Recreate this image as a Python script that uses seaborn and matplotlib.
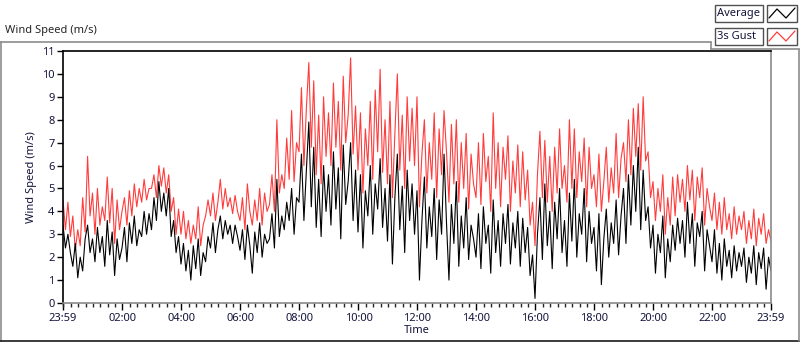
import numpy as np
import pandas as pd
import matplotlib
matplotlib.use("Agg")
import matplotlib.pyplot as plt
from matplotlib.lines import Line2D
from matplotlib.patches import Rectangle
from matplotlib.ticker import FixedLocator
import seaborn as sns

# average wind speed, 5 minute steps starting at 23:59 (one row of 12 per hour)
average = [
    3.4, 2.4, 3.0, 2.2, 1.6, 2.6, 1.1, 2.0, 1.4, 2.8, 3.4, 2.2,
    2.8, 1.8, 3.3, 2.2, 2.9, 1.6, 3.6, 2.1, 3.1, 1.2, 2.8, 1.9,
    2.4, 3.3, 1.8, 3.5, 2.6, 3.8, 2.5, 3.2, 2.9, 4.0, 3.0, 3.9,
    3.2, 4.6, 3.6, 5.3, 4.0, 4.8, 3.8, 5.0, 2.9, 3.6, 2.2, 2.9,
    1.7, 2.6, 1.4, 2.3, 1.0, 2.5, 1.5, 2.8, 1.2, 2.2, 1.8, 2.9,
    2.4, 3.5, 2.2, 3.2, 3.8, 2.8, 3.6, 3.0, 3.4, 2.6, 3.4, 2.9,
    2.3, 3.2, 1.9, 3.4, 2.5, 1.3, 3.1, 2.2, 3.5, 2.0, 3.0, 2.6,
    2.8, 3.9, 2.4, 5.4, 2.9, 3.8, 3.2, 4.4, 3.6, 5.0, 3.0, 4.6,
    4.4, 6.5, 3.6, 5.8, 7.9, 4.2, 6.8, 3.3, 5.4, 2.9, 6.0, 4.0,
    5.6, 3.4, 6.6, 4.1, 5.9, 2.8, 6.9, 4.3, 5.3, 7.0, 3.6, 5.8,
    3.1, 5.6, 2.4, 4.9, 3.8, 6.0, 3.0, 5.2, 4.1, 6.3, 3.3, 5.0,
    2.7, 5.6, 1.7, 4.6, 6.5, 3.2, 5.1, 2.2, 5.8, 3.6, 5.2, 3.0,
    4.9, 1.0, 3.6, 5.5, 2.4, 4.2, 2.9, 5.0, 1.9, 4.5, 3.0, 6.5,
    3.5, 1.0, 4.3, 2.6, 5.3, 1.6, 3.8, 2.4, 4.6, 1.9, 3.4, 2.8,
    2.0, 3.9, 1.5, 4.2, 2.6, 3.4, 1.3, 4.5, 2.2, 3.6, 1.6, 3.9,
    2.6, 4.3, 1.7, 3.5, 2.4, 4.0, 1.6, 3.7, 2.2, 3.3, 1.2, 2.1,
    0.2, 3.0, 4.6, 1.9, 5.2, 2.5, 4.0, 1.5, 4.4, 2.8, 5.0, 2.2,
    3.6, 1.6, 4.8, 2.7, 5.4, 2.0, 3.9, 3.0, 5.0, 1.8, 4.0, 2.6,
    3.3, 1.4, 3.9, 0.8, 2.8, 4.1, 2.0, 3.5, 2.6, 4.5, 2.1, 3.8,
    5.0, 2.6, 5.6, 3.4, 6.0, 4.0, 6.8, 3.2, 5.8, 3.6, 4.2, 2.4,
    3.4, 1.3, 3.0, 2.2, 3.8, 1.1, 2.8, 1.8, 3.4, 2.3, 3.7, 2.6,
    3.6, 2.0, 4.4, 2.6, 3.9, 1.6, 3.5, 2.9, 4.0, 1.4, 3.2, 2.5,
    1.8, 3.2, 1.3, 2.6, 1.0, 2.8, 1.6, 2.3, 1.1, 2.5, 1.4, 2.2,
    1.6, 2.4, 0.9, 2.0, 1.3, 2.5, 0.8, 2.2, 1.5, 2.4, 0.6, 2.0,
    1.4,
]

gust = [
    4.5, 3.2, 4.4, 2.9, 3.8, 2.3, 3.2, 2.5, 4.6, 3.1, 6.4, 3.8,
    4.8, 3.0, 5.0, 3.4, 4.2, 3.6, 5.5, 3.5, 5.0, 2.6, 4.5, 3.2,
    4.0, 4.6, 3.4, 4.9, 3.8, 5.2, 4.2, 5.0, 4.4, 5.4, 4.5, 5.0,
    5.0, 5.6, 4.6, 6.0, 5.1, 5.9, 4.8, 5.6, 4.0, 4.6, 3.0, 4.1,
    3.0, 4.0, 2.8, 3.6, 2.6, 3.4, 2.8, 4.2, 2.5, 3.4, 3.8, 4.5,
    3.8, 4.8, 3.6, 4.4, 5.4, 4.1, 5.0, 4.2, 4.6, 3.9, 4.7, 4.0,
    3.6, 4.6, 3.2, 5.2, 4.0, 3.4, 4.5, 3.6, 5.0, 3.4, 4.8, 4.0,
    4.3, 5.6, 4.0, 8.0, 4.8, 5.6, 5.0, 7.2, 5.4, 8.4, 5.3, 7.0,
    6.6, 9.4, 6.0, 8.5, 10.5, 6.8, 9.7, 5.6, 8.2, 5.2, 9.0, 6.4,
    8.3, 6.0, 9.6, 6.8, 8.8, 5.8, 9.9, 7.0, 8.2, 10.7, 6.5, 8.6,
    5.8, 8.3, 4.8, 7.6, 6.0, 8.8, 5.4, 9.3, 6.6, 10.2, 5.7, 8.0,
    5.2, 8.8, 4.6, 7.4, 10.0, 5.8, 8.2, 5.0, 9.0, 6.2, 8.5, 6.0,
    9.0, 4.2, 6.5, 8.0, 4.8, 7.0, 5.4, 8.3, 4.6, 7.6, 5.6, 8.4,
    6.6, 4.4, 7.8, 5.2, 8.0, 4.4, 7.0, 5.0, 7.4, 4.1, 6.5, 5.2,
    4.6, 7.0, 4.3, 7.4, 5.3, 6.4, 4.0, 8.3, 5.0, 7.0, 4.2, 6.8,
    5.4, 7.3, 4.0, 6.2, 4.8, 6.9, 4.2, 6.6, 4.5, 5.8, 3.4, 4.4,
    2.5, 5.6, 7.5, 4.6, 7.1, 4.4, 6.4, 4.0, 6.8, 4.8, 7.6, 5.0,
    6.0, 4.4, 8.0, 5.0, 7.6, 4.6, 6.6, 5.3, 7.2, 4.2, 6.8, 5.0,
    5.6, 4.2, 6.5, 4.0, 5.3, 6.8, 4.4, 5.9, 4.8, 7.4, 4.6, 6.3,
    7.0, 5.3, 8.0, 5.6, 8.5, 6.4, 8.7, 5.8, 9.0, 6.2, 6.6, 4.6,
    5.3, 3.6, 5.0, 4.0, 5.6, 3.0, 4.6, 3.4, 5.5, 3.8, 5.6, 4.4,
    5.4, 4.0, 6.0, 4.5, 5.8, 3.6, 5.5, 4.6, 5.9, 3.4, 5.0, 4.2,
    3.6, 4.8, 3.2, 4.4, 3.0, 4.6, 3.2, 3.9, 2.8, 4.2, 3.0, 3.8,
    3.2, 4.0, 2.6, 3.6, 2.8, 4.1, 2.5, 3.7, 3.0, 3.9, 2.6, 3.2,
    2.7,
]

minutes = np.arange(0, 1441, 5)   # minutes after 23:59
tick_pos = [0, 121, 241, 361, 481, 601, 721, 841, 961, 1081, 1201, 1321, 1440]
tick_labels = ["23:59", "02:00", "04:00", "06:00", "08:00", "10:00", "12:00",
               "14:00", "16:00", "18:00", "20:00", "22:00", "23:59"]

df = pd.DataFrame({"Time": minutes, "Average": average, "3s Gust": gust})

sns.set_style("white")
plt.rcParams["font.family"] = ["Noto Sans", "DejaVu Sans"]
plt.rcParams["font.size"] = 8

fig = plt.figure(figsize=(8, 3.42), dpi=100)
W, H = 800, 342

def fx(x):
    return x / W

def fy(y):
    return 1 - y / H

ax = fig.add_axes([fx(63), fy(303), fx(771) - fx(63), (303 - 51) / H])

sns.lineplot(data=df, x="Time", y="3s Gust", color="#ff3c3c", lw=0.8, ax=ax)
sns.lineplot(data=df, x="Time", y="Average", color="black", lw=0.8, ax=ax)

ax.set_xlim(0, 1440)
ax.set_ylim(0, 11)
ax.set_yticks(range(12))
ax.set_xticks(tick_pos)
ax.set_xticklabels(tick_labels)
ax.xaxis.set_minor_locator(FixedLocator(np.arange(1, 1440, 15)))
ax.tick_params(axis="x", which="major", length=5, width=1, direction="out",
               colors="black", labelcolor="#14143c", labelsize=8, pad=2, bottom=True)
ax.tick_params(axis="x", which="minor", length=3, width=1, direction="out", bottom=True)
ax.tick_params(axis="y", length=4, width=1, direction="out", left=True,
               colors="black", labelcolor="#14143c", labelsize=8, pad=2)
ax.set_xlabel("Time", fontsize=8, color="#14143c", labelpad=1)
ax.set_ylabel("Wind Speed (m/s)", fontsize=8, color="#14143c", labelpad=4)

for side in ["top", "left"]:
    ax.spines[side].set_color("black")
    ax.spines[side].set_linewidth(1.2)
for side in ["right", "bottom"]:
    ax.spines[side].set_color("#8a8a8a")
    ax.spines[side].set_linewidth(1.2)

fig.text(fx(5), fy(31), "Wind Speed (m/s)", fontsize=8, va="center", ha="left")

# outer frame
frame = [((0, 42), (711, 42)), ((711, 42), (711, 49)), ((711, 49), (799, 49)),
         ((0.5, 42), (0.5, 341)), ((0, 341), (800, 341)), ((799, 49), (799, 341))]
for (x0, y0), (x1, y1) in frame:
    col = "#1a1a1a" if y0 == 341 and y1 == 341 else "#8c8c8c"
    fig.add_artist(Line2D([fx(x0), fx(x1)], [fy(y0), fy(y1)], color=col, lw=1.2))

# legend boxes
for row, (name, col) in enumerate([("Average", "black"), ("3s Gust", "#ff3c3c")]):
    top = 5 + row * 23
    fig.add_artist(Rectangle((fx(715), fy(top + 17)), fx(48), 17 / H,
                             facecolor="white", edgecolor="#505050", lw=1))
    fig.text(fx(717), fy(top + 8.5), name, fontsize=8, va="center", ha="left",
             color="#14143c")
    fig.add_artist(Rectangle((fx(767), fy(top + 17)), fx(30), 17 / H,
                             facecolor="white", edgecolor="#505050", lw=1))
    xs = [769, 777, 786, 795]
    ys = [top + 13, top + 4, top + 13, top + 3]
    fig.add_artist(Line2D([fx(v) for v in xs], [fy(v) for v in ys], color=col, lw=0.9))

fig.savefig("out.png", dpi=100)
